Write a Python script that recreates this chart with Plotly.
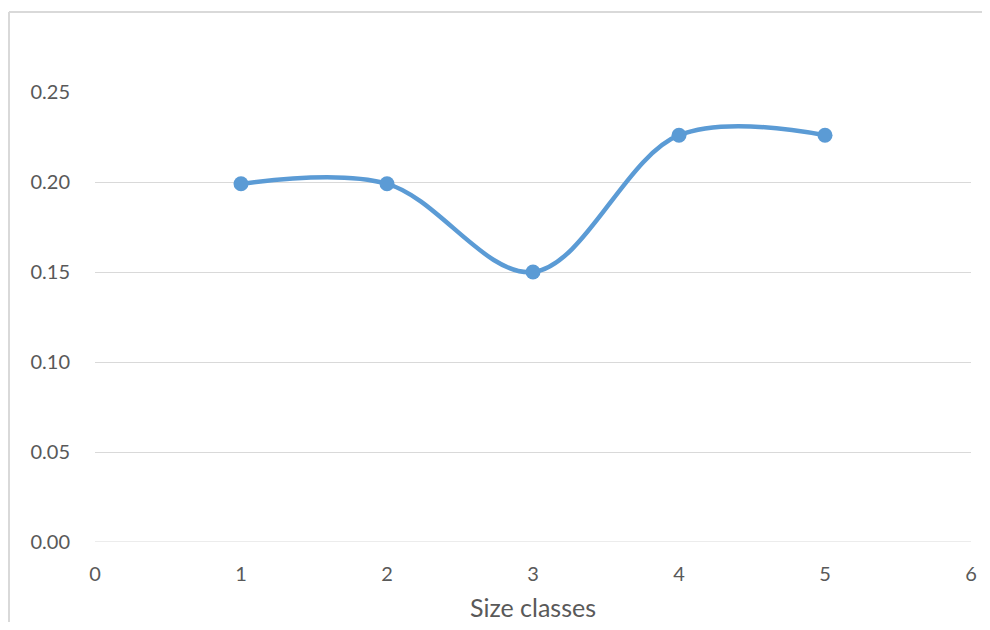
import plotly.graph_objects as go

size_classes = [1, 2, 3, 4, 5]
values = [0.199, 0.199, 0.150, 0.226, 0.226]
y_ticks = [0.00, 0.05, 0.10, 0.15, 0.20, 0.25]
x_ticks = [0, 1, 2, 3, 4, 5, 6]

# page body has an 8px margin on every side; keep the figure inside the window
OFF = 8
W, H = 990 - 2 * OFF, 630 - 2 * OFF
L, T = 95 - OFF, 92 - OFF
R = W - (971 - OFF)
B = H - (542 - OFF)
pw, ph = W - L - R, H - T - B

fig = go.Figure()
fig.add_trace(go.Scatter(
    x=size_classes, y=values, mode="lines+markers",
    line=dict(color="#5B9BD5", width=4.5, shape="spline", smoothing=1),
    marker=dict(color="#5B9BD5", size=15),
    showlegend=False, hoverinfo="x+y",
))

font = dict(family="Lato, 'Open Sans', sans-serif", size=20, color="#595959")
title_font = dict(family="Lato, 'Open Sans', sans-serif", size=25, color="#595959")

bx0 = (9 - 95) / pw
by1 = 1 + (92 - 12) / ph
fig.update_layout(
    width=W, height=H,
    margin=dict(l=L, r=R, t=T, b=B),
    paper_bgcolor="white", plot_bgcolor="white",
    font=font,
    xaxis=dict(
        range=[0, 6], tickvals=x_ticks, ticktext=[str(v) for v in x_ticks],
        showgrid=False, zeroline=False, showline=False, ticks="",
        ticklabelstandoff=18, automargin=False,
        title=dict(text="Size classes", font=title_font, standoff=17),
    ),
    yaxis=dict(
        range=[0, 0.25], tickvals=y_ticks, ticktext=[f"{v:.2f}" for v in y_ticks],
        showgrid=True, gridcolor="#D9D9D9", gridwidth=1,
        zeroline=False, showline=False, ticks="",
        ticklabelstandoff=24, automargin=False,
    ),
    shapes=[
        dict(type="line", xref="paper", yref="paper",
             x0=bx0, x1=(W + 30 - L) / pw, y0=by1, y1=by1,
             line=dict(color="#D9D9D9", width=2), layer="below"),
        dict(type="line", xref="paper", yref="paper",
             x0=bx0, x1=bx0, y0=-(B + 30) / ph, y1=by1,
             line=dict(color="#D9D9D9", width=2), layer="below"),
        dict(type="line", xref="paper", yref="y",
             x0=0, x1=1, y0=0, y1=0,
             line=dict(color="#D9D9D9", width=1), layer="below"),
    ],
)

fig.write_html("out.html")
